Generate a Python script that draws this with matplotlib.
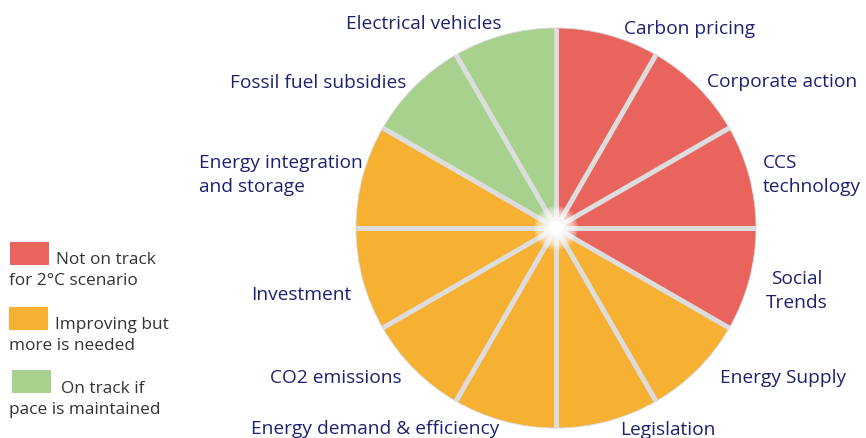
import matplotlib.pyplot as plt
import numpy as np

# slices, clockwise from the top
labels = ['Carbon pricing', 'Corporate action', 'CCS\ntechnology', 'Social\nTrends',
          'Energy Supply', 'Legislation', 'Energy demand & efficiency', 'CO2 emissions',
          'Investment', 'Energy integration\nand storage', 'Fossil fuel subsidies',
          'Electrical vehicles']
status = ['red', 'red', 'red', 'red',
          'orange', 'orange', 'orange', 'orange', 'orange', 'orange',
          'green', 'green']
sizes = [1] * 12

legend_text = ['Not on track\nfor 2°C scenario', 'Improving but\nmore is needed',
               'On track if\npace is maintained']

colors = {'red': '#EA645E', 'orange': '#F6B032', 'green': '#A9D18E'}
label_col = '#1E2170'

# label placement (pixels, y from top) and alignment
label_pos = [(690, 29, 'center'), (782, 82, 'center'), (763, 175, 'left'),
             (797, 291, 'center'), (783, 378, 'center'), (668, 430, 'center'),
             (375, 429, 'center'), (336, 378, 'center'), (301, 295, 'center'),
             (199, 175, 'left'), (318, 83, 'center'), (424, 24, 'center')]

W, H = 866, 439
fig = plt.figure(figsize=(W / 100, H / 100), dpi=100)
ax = fig.add_axes([0, 0, 1, 1])

cx, cy, r = 556, H - 229, 200

wedges, _ = ax.pie(sizes, colors=[colors[s] for s in status], startangle=90,
                   counterclock=False, center=(cx, cy), radius=r, frame=True,
                   wedgeprops=dict(linewidth=0.6, edgecolor='#d8d8d8'))

# separators
bounds = 90 - 360 * np.cumsum([0] + sizes[:-1]) / sum(sizes)
for a in np.deg2rad(bounds):
    ax.plot([cx, cx + r * np.cos(a)], [cy, cy + r * np.sin(a)],
            color='#dddddd', lw=3.6, solid_capstyle='butt', zorder=3)

# soft white glow in the middle
for rad in np.linspace(22, 5, 12):
    ax.add_patch(plt.Circle((cx, cy), rad, color='white', alpha=0.18, lw=0, zorder=4))
ax.add_patch(plt.Circle((cx, cy), 7, color='white', lw=0, zorder=4))

for lab, (x, y, ha) in zip(labels, label_pos):
    ax.text(x, H - y, lab, ha=ha, va='center', color=label_col, fontsize=13.8,
            family='Open Sans', linespacing=1.45)

# legend
leg_box = [(10, 243), (9, 308), (12, 371)]
leg_txt = [(56, 9, 260), (55, 9, 325), (61, 9, 389)]
for st, txt, (bx, by), (tx1, tx2, ty) in zip(['red', 'orange', 'green'], legend_text,
                                              leg_box, leg_txt):
    ax.add_patch(plt.Rectangle((bx, H - by - 23), 39, 23, color=colors[st], lw=0))
    first, second = txt.split('\n')
    ax.text(tx1, H - ty, first, ha='left', va='center', color='#333333',
            fontsize=12.4, family='Open Sans')
    ax.text(tx2, H - ty - 21, second, ha='left', va='center', color='#333333',
            fontsize=12.4, family='Open Sans')

ax.set_xlim(0, W)
ax.set_ylim(0, H)
ax.set_aspect('equal')
ax.axis('off')

fig.savefig('out.png', dpi=100)
